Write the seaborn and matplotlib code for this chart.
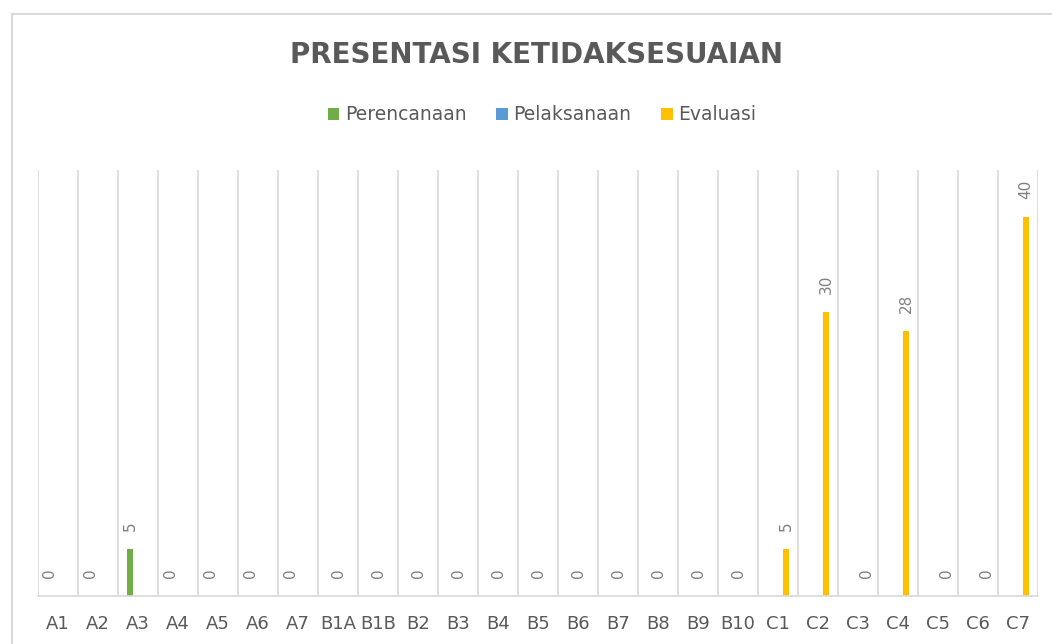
import numpy as np
import pandas as pd
import matplotlib
matplotlib.use('Agg')
import matplotlib.pyplot as plt
import seaborn as sns
from matplotlib.patches import Rectangle

# data
cat_a = ['A1', 'A2', 'A3', 'A4', 'A5', 'A6', 'A7']
cat_b = ['B1A', 'B1B', 'B2', 'B3', 'B4', 'B5', 'B6', 'B7', 'B8', 'B9', 'B10']
cat_c = ['C1', 'C2', 'C3', 'C4', 'C5', 'C6', 'C7']
perencanaan = [0, 0, 5, 0, 0, 0, 0]
pelaksanaan = [0, 0, 0, 0, 0, 0, 0, 0, 0, 0, 0]
evaluasi = [5, 30, 0, 28, 0, 0, 40]
series = ['Perencanaan', 'Pelaksanaan', 'Evaluasi']
colors = ['#70AD47', '#5B9BD5', '#FFC000']

df = pd.concat([
    pd.DataFrame({'kode': cat_a, 'seri': series[0], 'nilai': perencanaan}),
    pd.DataFrame({'kode': cat_b, 'seri': series[1], 'nilai': pelaksanaan}),
    pd.DataFrame({'kode': cat_c, 'seri': series[2], 'nilai': evaluasi}),
], ignore_index=True)
order = cat_a + cat_b + cat_c

sns.set_style('white')
plt.rcParams['font.family'] = ['DejaVu Sans']

fig = plt.figure(figsize=(10.52, 6.44), dpi=100)
ax = fig.add_axes([38/1052, 1-596/644, (1038-38)/1052, (596-170)/644])

sns.barplot(data=df, x='kode', y='nilai', hue='seri', order=order,
            hue_order=series, palette=colors, width=0.6, gap=0.3,
            saturation=1, linewidth=0, dodge=True, ax=ax, legend=True)

for c in ax.containers:
    ax.bar_label(c, fmt='%g', rotation=90, padding=13, fontsize=11,
                 color='#808080')

n = len(order)
ax.set_xlim(-0.5, n - 0.5)
ax.set_ylim(0, 45)
ax.set_xticks(np.arange(-0.5, n), minor=True)
ax.grid(which='minor', axis='x', color='#d9d9d9', lw=1.2)
ax.grid(which='major', visible=False)
ax.tick_params(axis='x', which='both', length=0, pad=14,
               labelsize=13, labelcolor='#595959')
ax.set_yticks([])
ax.set_xlabel('')
ax.set_ylabel('')
for s in ['top', 'left', 'right']:
    ax.spines[s].set_visible(False)
ax.spines['bottom'].set_color('#d9d9d9')
ax.spines['bottom'].set_linewidth(1.2)

h, l = ax.get_legend_handles_labels()
ax.get_legend().remove()
fig.legend(h, l, loc='center', bbox_to_anchor=(542/1052, 1-115/644), ncol=3,
           frameon=False, fontsize=13.5, labelcolor='#595959',
           handlelength=0.6, handleheight=0.6, handletextpad=0.3,
           columnspacing=1.6)

fig.text(537/1052, 1-55/644, 'PRESENTASI KETIDAKSESUAIAN', ha='center',
         va='center', fontsize=20, fontweight='bold', color='#595959')

# outer chart border
fig.patches.append(Rectangle((12/1052, -0.1), 1.2, 1.1 - 14/644,
                             transform=fig.transFigure, fill=False,
                             edgecolor='#d9d9d9', lw=1.5))

fig.savefig('out.png', dpi=100)
